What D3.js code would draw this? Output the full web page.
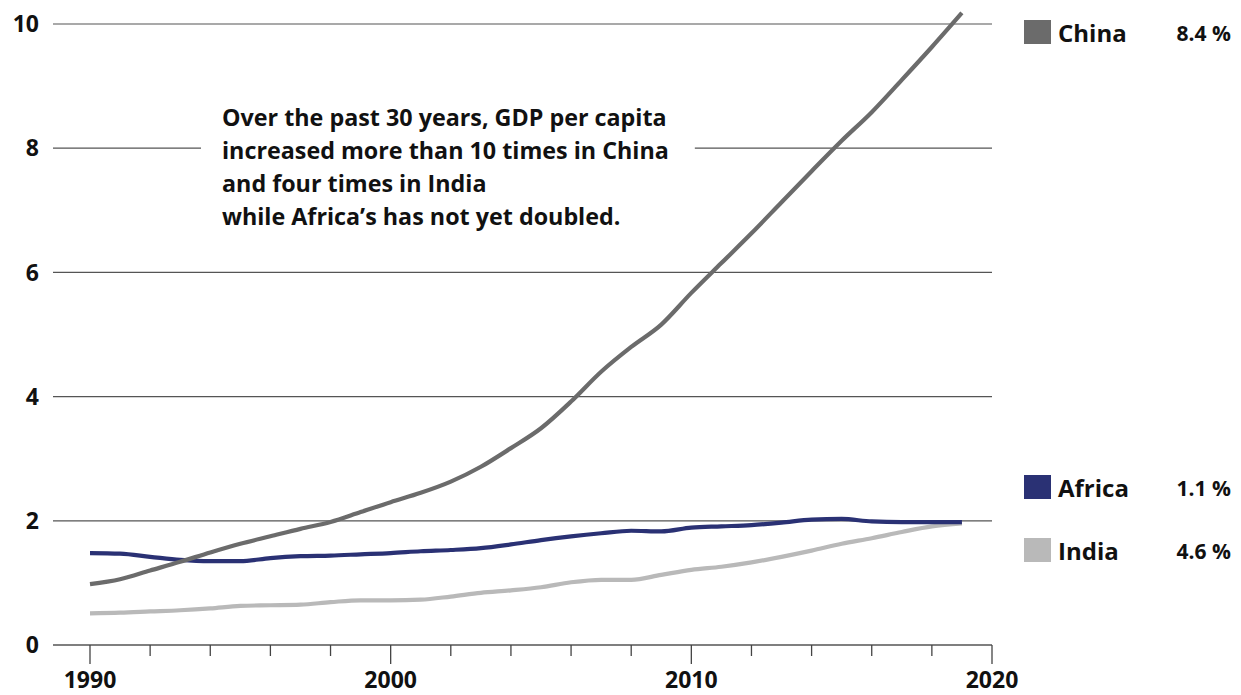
<!DOCTYPE html>
<html>
<head>
<meta charset="utf-8">
<script src="https://cdn.jsdelivr.net/npm/d3@7"></script>
<style>
  html, body { margin: 0; padding: 0; background: #fff; }
  svg { display: block; }
  text { font-family: "Open Sans", Lato, sans-serif; font-weight: bold; fill: #111; }
</style>
</head>
<body>
<svg id="chart" width="1241" height="695"></svg>
<script>
const years = d3.range(1990, 2020);
const china = [0.98, 1.06, 1.20, 1.34, 1.49, 1.63, 1.75, 1.87, 1.98, 2.14,
               2.30, 2.45, 2.63, 2.87, 3.17, 3.49, 3.92, 4.40, 4.80, 5.16,
               5.67, 6.15, 6.63, 7.13, 7.63, 8.12, 8.58, 9.10, 9.63, 10.18];
const africa = [1.48, 1.47, 1.42, 1.37, 1.35, 1.35, 1.40, 1.43, 1.44, 1.46,
                1.48, 1.51, 1.53, 1.56, 1.62, 1.69, 1.75, 1.80, 1.84, 1.83,
                1.89, 1.91, 1.93, 1.97, 2.02, 2.03, 1.99, 1.98, 1.98, 1.98];
const india = [0.51, 0.52, 0.54, 0.56, 0.59, 0.63, 0.64, 0.65, 0.69, 0.72,
               0.72, 0.73, 0.78, 0.84, 0.88, 0.93, 1.01, 1.05, 1.05, 1.13,
               1.21, 1.26, 1.33, 1.42, 1.52, 1.63, 1.72, 1.82, 1.91, 1.96];
const yTicks = [0, 2, 4, 6, 8, 10];
const xMajorTicks = [1990, 2000, 2010, 2020];
const xMinorTicks = d3.range(1992, 2020, 2).filter(y => y % 10 !== 0);
const seriesNames = ["China", "Africa", "India"];
const growthLabels = ["8.4 %", "1.1 %", "4.6 %"];
const annotation = [
  "Over the past 30 years, GDP per capita",
  "increased more than 10 times in China",
  "and four times in India",
  "while Africa\u2019s has not yet doubled."
];

const colors = { China: "#6b6b6b", Africa: "#2a3174", India: "#b9b9b9" };
const seriesData = { China: china, Africa: africa, India: india };

const svg = d3.select("#chart");
const x = d3.scaleLinear().domain([1990, 2020]).range([90, 992]);
const y = d3.scaleLinear().domain([0, 10]).range([645, 24]);
const gridX0 = 53, gridX1 = 992;

// annotation text (drawn first to measure for gridline break)
const ann = svg.append("g").attr("class", "annotation");
annotation.forEach((line, i) => {
  ann.append("text")
    .attr("x", 222)
    .attr("y", 126 + i * 33)
    .style("font-size", "23.3px")
    .text(line);
});
const annBox = ann.node().getBBox();

// gridlines
const grid = svg.append("g").attr("class", "grid");
yTicks.filter(t => t > 0).forEach(t => {
  const yy = y(t);
  if (t === 8) {
    grid.append("line").attr("x1", gridX0).attr("x2", annBox.x - 21)
      .attr("y1", yy).attr("y2", yy);
    grid.append("line").attr("x1", annBox.x + annBox.width + 26).attr("x2", gridX1)
      .attr("y1", yy).attr("y2", yy);
  } else {
    grid.append("line").attr("x1", gridX0).attr("x2", gridX1)
      .attr("y1", yy).attr("y2", yy);
  }
});
grid.selectAll("line").attr("stroke", "#555").attr("stroke-width", 1.2);

// y labels
svg.append("g").selectAll("text").data(yTicks).join("text")
  .attr("x", 39).attr("y", d => y(d))
  .attr("dy", "0.36em")
  .attr("text-anchor", "end")
  .style("font-size", "23px")
  .text(d => d);

// x axis
const axisG = svg.append("g");
axisG.append("line").attr("x1", gridX0).attr("x2", gridX1)
  .attr("y1", y(0)).attr("y2", y(0))
  .attr("stroke", "#555").attr("stroke-width", 1.5);
axisG.selectAll(".major").data(xMajorTicks).join("line")
  .attr("class", "major")
  .attr("x1", d => x(d)).attr("x2", d => x(d))
  .attr("y1", y(0)).attr("y2", y(0) + 19)
  .attr("stroke", "#444").attr("stroke-width", 1.3);
axisG.selectAll(".minor").data(xMinorTicks).join("line")
  .attr("class", "minor")
  .attr("x1", d => x(d)).attr("x2", d => x(d))
  .attr("y1", y(0)).attr("y2", y(0) + 11)
  .attr("stroke", "#444").attr("stroke-width", 1.3);
axisG.selectAll("text").data(xMajorTicks).join("text")
  .attr("x", d => x(d)).attr("y", 688)
  .attr("text-anchor", "middle")
  .style("font-size", "23px")
  .text(d => d);

// lines
const line = d3.line()
  .x((d, i) => x(years[i]))
  .y(d => y(d))
  .curve(d3.curveMonotoneX);

["India", "Africa", "China"].forEach(name => {
  svg.append("path")
    .datum(seriesData[name])
    .attr("d", line)
    .attr("fill", "none")
    .attr("stroke", colors[name])
    .attr("stroke-width", 4.2);
});

// legend
const legendY = { China: 32, Africa: 487, India: 550 };
seriesNames.forEach((name, i) => {
  const cy = legendY[name];
  svg.append("rect")
    .attr("x", 1024).attr("y", cy - 12)
    .attr("width", 27).attr("height", 24)
    .attr("fill", colors[name]);
  svg.append("text")
    .attr("x", 1058).attr("y", cy + 10)
    .style("font-size", "24px")
    .text(name);
  svg.append("text")
    .attr("x", 1231).attr("y", cy + 9)
    .attr("text-anchor", "end")
    .style("font-size", "21px")
    .text(growthLabels[i]);
});
</script>
</body>
</html>
